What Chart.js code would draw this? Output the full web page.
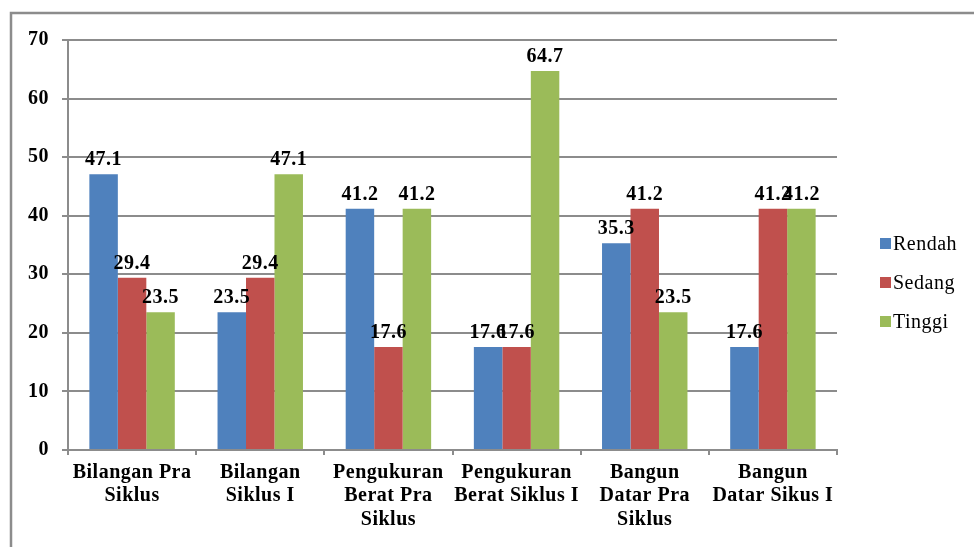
<!DOCTYPE html>
<html><head><meta charset="utf-8">
<script src="https://cdn.jsdelivr.net/npm/chart.js@4.4.0/dist/chart.umd.min.js"></script>
<style>html,body{margin:0;padding:0;background:#fff;} canvas{display:block;}</style>
</head><body>
<canvas id="c" width="974" height="547"></canvas>
<script>
const categories = [["Bilangan Pra","Siklus"],["Bilangan","Siklus I"],["Pengukuran","Berat Pra","Siklus"],["Pengukuran","Berat Siklus I"],["Bangun","Datar Pra","Siklus"],["Bangun","Datar Sikus I"]];
const seriesNames = ["Rendah","Sedang","Tinggi"];
const rendah = [47.1,23.5,41.2,17.6,35.3,17.6];
const sedang = [29.4,29.4,17.6,17.6,41.2,41.2];
const tinggi = [23.5,47.1,41.2,64.7,23.5,41.2];
const yMin = 0, yMax = 70, yStep = 10;
const colors = ["#4F81BD","#C0504D","#9BBB59"];

const FONT = '"Liberation Serif", "Times New Roman", serif';
const GRID = '#8C8C8C';
const LS = '0.5px';

function spacing(chart){ try { chart.ctx.letterSpacing = LS; } catch(e){} }

const spacingPlugin = {
  id:'spacing',
  beforeUpdate(chart){ spacing(chart); },
  beforeLayout(chart){ spacing(chart); },
  beforeDraw(chart){ spacing(chart); }
};

const framePlugin = {
  id:'frame',
  beforeDraw(chart){
    const ctx = chart.ctx;
    ctx.save();
    ctx.strokeStyle = GRID; ctx.lineWidth = 2.5;
    ctx.strokeRect(11, 13, 1200, 800);
    ctx.restore();
  }
};

const labelPlugin = {
  id:'valueLabels',
  afterDatasetsDraw(chart){
    const ctx = chart.ctx;
    ctx.save();
    ctx.font = 'bold 20px ' + FONT;
    try { ctx.letterSpacing = LS; } catch(e){}
    ctx.fillStyle = '#000'; ctx.textAlign = 'center'; ctx.textBaseline = 'alphabetic';
    chart.data.datasets.forEach((ds,i)=>{
      chart.getDatasetMeta(i).data.forEach((bar,j)=>{
        ctx.fillText(ds.data[j].toFixed(1), bar.x, bar.y - 9);
      });
    });
    ctx.restore();
  }
};

const legendPlugin = {
  id:'sideLegend',
  afterDraw(chart){
    const ctx = chart.ctx;
    ctx.save();
    ctx.font = '20px ' + FONT;
    try { ctx.letterSpacing = LS; } catch(e){}
    ctx.textAlign = 'left'; ctx.textBaseline = 'alphabetic';
    chart.data.datasets.forEach((ds,i)=>{
      const cy = 243.5 + i*39;
      ctx.fillStyle = ds.backgroundColor;
      ctx.fillRect(880, cy - 5.5, 11, 11);
      ctx.fillStyle = '#000';
      ctx.fillText(ds.label, 893, cy + 6);
    });
    ctx.restore();
  }
};

new Chart(document.getElementById('c'), {
  type:'bar',
  data:{
    labels: categories,
    datasets: [rendah, sedang, tinggi].map((d,i)=>({
      label: seriesNames[i], data: d, backgroundColor: colors[i], borderWidth: 0,
      categoryPercentage: 3/4.5, barPercentage: 1
    }))
  },
  options:{
    responsive:false, animation:false,
    layout:{ padding:{ top:40, right:137, bottom:0, left:0 } },
    plugins:{ legend:{ display:false }, tooltip:{ enabled:false } },
    scales:{
      x:{
        grid:{ drawOnChartArea:false, drawTicks:true, tickLength:5, color:GRID, lineWidth:2, offset:true },
        border:{ display:true, color:GRID, width:2 },
        ticks:{ font:{ family:FONT, size:20, weight:'bold', lineHeight:1.17 }, color:'#000', padding:6, maxRotation:0, minRotation:0, autoSkip:false },
        afterFit(s){ s.height = 97; }
      },
      y:{
        min:yMin, max:yMax,
        grid:{ color:GRID, lineWidth:2, tickLength:6, drawTicks:true },
        border:{ display:true, color:GRID, width:2 },
        ticks:{ stepSize:yStep, font:{ family:FONT, size:20, weight:'bold' }, color:'#000', padding:13 },
        afterFit(s){ s.width = 68; }
      }
    }
  },
  plugins:[spacingPlugin, framePlugin, labelPlugin, legendPlugin]
});
</script>
</body></html>
